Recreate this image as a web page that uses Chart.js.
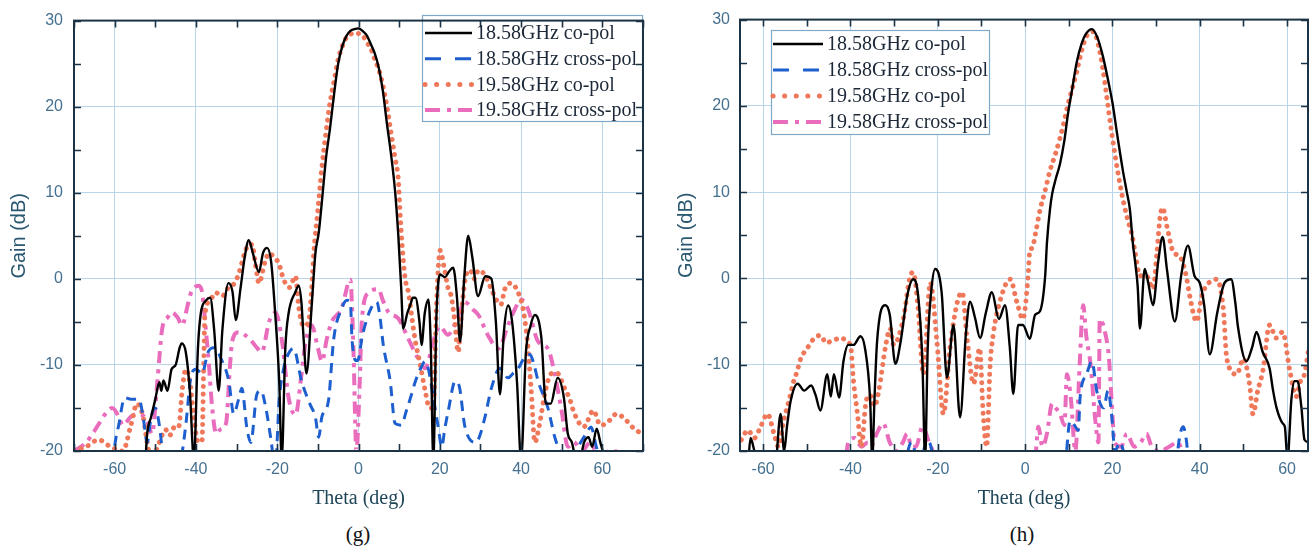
<!DOCTYPE html>
<html>
<head>
<meta charset="utf-8">
<script src="https://cdn.jsdelivr.net/npm/chart.js@4.4.1/dist/chart.umd.min.js"></script>
<style>
  html, body { margin: 0; padding: 0; background: #fff; width: 1312px; height: 554px; overflow: hidden; }
  .panel { position: absolute; top: 0; width: 656px; height: 515px; }
  .cap { position: absolute; top: 522px; font: 21px "Liberation Serif", "Times New Roman", serif; color: #111; transform: translateX(-50%); }
</style>
</head>
<body>
<div class="panel" style="left:0"><canvas id="chartG"></canvas></div>
<div class="panel" style="left:656px"><canvas id="chartH"></canvas></div>
<div class="cap" style="left:358px">(g)</div>
<div class="cap" style="left:1022px">(h)</div>
<script>
// ---- Measured radiation patterns: [theta (deg), gain (dB)] ----
// Values below -20 dB fall outside the plotted range.

// Panel (g)
const gCo1858 = [[-70,-25],[-53,-25],[-52,-18],[-51,-16],[-50,-14],[-49,-12],[-48.5,-13],[-48,-11.8],[-47,-13],[-46,-10.5],[-45,-10],[-44,-8],[-43.5,-7.5],[-42.5,-8.5],[-41.5,-13],[-40.5,-21],[-39.5,-8],[-38.8,-4],[-37.5,-2.5],[-36.5,-2.2],[-35.5,-6],[-34.4,-13],[-33.5,-6],[-32,-0.5],[-31,-1.5],[-30.2,-4.8],[-29,-1],[-28,2.5],[-27,4.5],[-26,3],[-24.5,0.8],[-23.5,3],[-22.5,3.6],[-21.5,2],[-20.5,-4],[-19.5,-12],[-18.9,-21],[-18,-8],[-17.2,-4],[-15.5,-1.5],[-14.7,-0.8],[-14,-3],[-13.5,-7],[-12.8,-11],[-11.5,-3],[-10.6,3],[-9.8,5.3],[-9,9],[-8,14],[-7,17.5],[-6,21.5],[-5,25],[-4,27],[-3,28.2],[-2,28.8],[-1,29],[0,29.1],[1,28.8],[2,28.3],[3,27.3],[4,26.2],[5,24.5],[6,21.8],[7,18],[8,14.5],[9,10.2],[9.8,5],[10.5,-1],[11,-5.8],[12,-4],[12.7,-3.1],[13.4,-2.2],[14,-2.2],[15,-5],[15.5,-7.7],[16.3,-4],[17.2,-2.4],[17.8,-8],[18.4,-21],[19.2,-4],[20.1,0.5],[21.3,0.2],[22.2,0.8],[23.3,1.3],[24.2,-2],[25,-7.3],[26,0],[27,5],[28,2.5],[29.4,-2],[31.2,0.3],[32.7,0],[33.8,-5],[34.8,-13.4],[35.8,-6],[36.8,-3.1],[37.8,-5],[39,-12],[40,-21],[41.2,-8.5],[42.3,-5.5],[43.4,-4.2],[45,-6.9],[46.1,-14.5],[47.3,-14.5],[49,-11.5],[50.5,-13.7],[51.5,-18],[52.5,-19],[54,-22],[55.5,-19],[56.6,-18.4],[57.5,-19.5],[58.6,-17.4],[59.5,-19],[60.6,-21],[62,-25],[70,-25]];

const gCross1858 = [[-70,-25],[-61,-25],[-60,-19.5],[-59,-17],[-57.5,-13.8],[-56,-14],[-54,-14],[-53,-16],[-52,-19],[-51,-16],[-50,-15],[-49,-17],[-48,-21],[-46,-25],[-44,-22],[-42.5,-17],[-41.2,-11.3],[-40,-10.5],[-38.5,-11],[-37,-8.5],[-35.5,-8],[-33.8,-9.3],[-31.9,-11.9],[-30.7,-15.7],[-29.5,-14],[-28.7,-12.7],[-27.5,-17.2],[-26.5,-19],[-25,-13.4],[-24,-13],[-22.8,-15],[-21.5,-18.8],[-20.5,-22],[-19.5,-14],[-18.4,-10.4],[-17,-8.5],[-16,-8.1],[-14,-11.9],[-12,-14.5],[-10.6,-16.1],[-9.8,-18.4],[-9,-16],[-7.4,-14.2],[-6.1,-7],[-4.2,-3.5],[-2.8,-2.5],[-2,-2.7],[-1.6,-7],[-0.5,-9.5],[0,-9.3],[0.8,-7],[1.6,-5.4],[3,-3.5],[4.5,-2.7],[5.3,-4.5],[6.1,-7.7],[7.8,-11.9],[9,-16.8],[10.5,-17],[11.8,-15.3],[13,-13.5],[14,-11.9],[15.2,-10.5],[16.4,-9.6],[17.2,-10.5],[18.5,-14],[19.6,-17.2],[20.5,-19.5],[21.2,-17.5],[22.1,-15.3],[23.8,-11.9],[24.8,-12.5],[26.2,-17.2],[29,-19],[30,-18],[31.1,-16.1],[32.7,-12.7],[34.8,-10.4],[36.8,-11.5],[38,-11],[39.3,-10.4],[41,-9],[42.2,-8.8],[43.2,-10],[44.2,-11.9],[46.6,-15],[48.3,-18.4],[50,-20.5],[52,-21],[54,-19.5],[56,-18],[57.2,-17.2],[58.5,-19.5],[60,-22],[62,-25],[70,-25]];

const gCo1958 = [[-70,-20],[-67,-19.5],[-64,-18.7],[-61,-19.5],[-58,-20],[-56,-17],[-54.5,-14.5],[-53,-16],[-52,-19],[-51,-21],[-49,-19],[-47.5,-17.5],[-46.5,-18.2],[-45,-17],[-44.2,-17.1],[-43.4,-13],[-42.5,-10.5],[-41.5,-12],[-40.5,-16],[-39.5,-19],[-38.5,-18.7],[-38,-8],[-37.8,-4.3],[-36.5,-2.5],[-35.2,-1.6],[-33.5,-2],[-32,-1],[-30.5,-0.5],[-29.4,0.7],[-28,3],[-27,4],[-26.2,4],[-25.3,1.5],[-24.5,-0.5],[-23,2],[-22,3],[-20.8,2.5],[-19.6,1.8],[-18.8,0.5],[-18,-0.5],[-17,-1],[-15.5,0.3],[-14.7,-3.3],[-13.5,-5.5],[-12.3,-5],[-11.5,-1],[-11,3],[-10,8],[-9,13],[-8,17],[-7,20.5],[-6,23],[-5,25.5],[-4,27],[-3,28],[-2,28.4],[-1,28.6],[0,28.5],[1,28.3],[2,27.5],[3,26.8],[4,25.5],[5,24.3],[6,22.5],[7,20],[8,17],[9,14],[9.8,11.5],[10.3,7],[10.8,3.5],[11.5,0],[12.3,-1.6],[13,-4],[14,-7.3],[15.2,-10],[16.4,-13],[17.5,-15],[18.4,-15],[19.2,-3],[20.1,3.3],[21,1.5],[22,-1],[22.8,-2],[23.7,-5],[24.5,-8.5],[25.5,-3],[26.5,0.5],[27.5,1],[28.5,0],[29.5,1],[31,0.5],[32.5,-1],[34,-2.5],[35,-3],[36,-1.2],[37.5,-0.5],[39.3,-1.6],[40.5,-3.5],[41.5,-7],[42.5,-13],[43.4,-19],[44.5,-17],[46,-13],[47.5,-11],[49,-11],[50.5,-12.5],[52,-14],[53,-15.5],[55.4,-17.2],[57.8,-15.3],[59.5,-17],[61,-16.8],[63.5,-15.7],[66,-16.5],[68,-17.5],[70,-18]];

const gCross1958 = [[-70,-20],[-67,-19],[-63.8,-16.8],[-62,-15.5],[-60.6,-15],[-59,-16],[-58,-17],[-56,-16],[-54,-15.7],[-52,-16.5],[-50.8,-18],[-49.5,-12],[-48.3,-5.8],[-47,-4.5],[-45.9,-3.9],[-44.5,-4.5],[-43.4,-5.4],[-42,-3],[-41.2,-1.6],[-39.3,-0.8],[-38.5,-1.5],[-37.8,-4.7],[-36.8,-10],[-36,-15],[-35,-18],[-34,-17.5],[-32.6,-16.8],[-31.6,-10],[-31.1,-7.3],[-29.5,-6.2],[-28,-6.5],[-26.2,-7.3],[-25,-8],[-23.8,-8.5],[-22,-5],[-20.4,-3.9],[-18.8,-7.3],[-17.2,-13.8],[-15.5,-15.8],[-14,-11],[-13,-7.3],[-11.5,-5.4],[-10,-8],[-9,-9.6],[-7.8,-7],[-6.6,-5],[-4.2,-3.5],[-2,-0.1],[-1.3,-7.3],[-0.5,-20],[0.3,-12],[0.8,-5],[2.5,-1.6],[4.9,-1.2],[6,-2.5],[7.4,-3.9],[9.8,-4.6],[12.3,-7],[14.7,-9.3],[16.4,-10.4],[17.5,-9],[18.4,-7.3],[20,-5.5],[22,-6.5],[24,-5],[26.2,-2.7],[28,-3.5],[29.5,-4.2],[31.9,-6.6],[34.4,-8.1],[36.8,-5.4],[38.5,-3.5],[40,-2.4],[41.7,-3.5],[44.2,-7.3],[46.6,-8.1],[48.3,-11.1],[50,-15.4],[51.5,-19.5],[53,-19],[55,-20],[57,-19],[59,-20.5],[62,-20],[70,-21]];

// Panel (h)
const hCo1858 = [[-65,-25],[-63.5,-22],[-62.9,-18.5],[-62,-20],[-61,-22],[-58,-25],[-57,-21],[-56,-15.7],[-55.2,-20],[-54.5,-17],[-53.7,-14.2],[-52.1,-12.2],[-50.6,-13],[-49,-12.4],[-48,-13.5],[-46.9,-15.3],[-45.3,-11.1],[-44.5,-13.7],[-43.8,-11.1],[-42.6,-13.8],[-41.6,-9.6],[-40.5,-7.7],[-39.3,-7.7],[-37.7,-6.7],[-36.6,-8.3],[-35.5,-14],[-35,-21],[-34.5,-14],[-33.9,-7.3],[-32,-3.1],[-31,-4.2],[-29.7,-9.9],[-28.5,-7.3],[-27,-2],[-25.6,-0.1],[-24.5,-2],[-23.5,-10],[-22.9,-21],[-22.3,-8],[-21.5,-1.5],[-20.6,1.1],[-19.1,-1.7],[-17.9,-11.5],[-16.4,-5.4],[-14.9,-16.1],[-13.5,-6],[-12.6,-2.7],[-11.5,-4.5],[-10.3,-6.9],[-9,-4],[-7.6,-1.6],[-6,-4.7],[-4.6,-3.1],[-3.5,-8],[-2.7,-13.4],[-1.6,-5.4],[-0.5,-5.4],[1.1,-7],[2.3,-4.2],[3.4,-3.8],[4.6,0.3],[5,4.1],[5.7,8],[6.2,9.8],[7,11.5],[8,13.3],[9,16],[9.8,19],[10.8,22],[11.8,25],[13,27.3],[14,28.4],[15.3,28.9],[16.5,28],[17.8,25.8],[19,23],[20.1,20.1],[21,17],[22.4,12.5],[23.3,10],[24,8],[24.7,4],[25.3,1.5],[25.8,-1],[26.3,-5.8],[27.4,1.1],[28.2,-0.5],[29.3,-3.1],[30.5,2],[31.5,4.8],[32.5,1],[34.3,-5],[35.8,0.5],[37.3,3.8],[38.8,0.3],[40,-0.5],[41,-3],[42.3,-8.8],[44,-4],[45.7,-0.5],[47.2,-0.1],[48.2,-3],[48.7,-5.4],[50.7,-9.6],[52,-8],[53,-6.2],[54.4,-8.5],[56,-10.4],[56.8,-13],[57.6,-15],[59,-16.8],[59.5,-17.2],[60.1,-21],[61,-14],[61.7,-11.9],[62.4,-11.9],[63.3,-15],[64,-18.7],[65,-19]];

const hCross1858 = [[-65,-25],[-28,-25],[-27,-20.5],[-26,-19],[-25,-20.5],[-24,-22],[-23,-19.5],[-22,-19],[-21,-21],[-20,-25],[8.5,-25],[9.5,-20],[10.3,-16.5],[11.3,-17],[12.2,-17.6],[12.6,-13.8],[14.1,-11.1],[15.3,-9.6],[16.4,-13],[17.2,-14.5],[18,-15],[19,-13],[19.8,-15.7],[20.6,-20],[21.7,-19],[23,-21],[25,-25],[34,-25],[35.2,-19],[36.2,-17.2],[37,-19],[38,-25],[65,-25]];

const hCo1958 = [[-65,-18.7],[-63.5,-17.6],[-62,-18.5],[-60.6,-17.2],[-59,-15.7],[-57.5,-18],[-56.5,-19.5],[-55.3,-16.5],[-54,-14],[-53,-11.9],[-52.3,-10.9],[-51.4,-9.3],[-49.9,-8.1],[-48.4,-7],[-46.9,-6.6],[-45.5,-7.5],[-44.6,-7.3],[-43,-7],[-42,-6.9],[-40.5,-7.5],[-40,-7.7],[-39.3,-11.9],[-38.4,-15.7],[-37.5,-19.5],[-36.5,-14.5],[-35.5,-13.5],[-34.5,-14.8],[-33.5,-13],[-32,-8],[-30.9,-5.8],[-30.1,-7.7],[-27.9,-4.7],[-26.3,0.3],[-25.6,0.7],[-24.5,-3.5],[-23.3,-11.1],[-21.7,-0.5],[-20.2,-7.3],[-18.7,-15.7],[-17.2,-8.1],[-15.5,-2.7],[-14.4,-1.6],[-13.3,-6.9],[-11.8,-12.2],[-10.4,-8.1],[-9.6,-15.7],[-8.8,-19.5],[-8,-10],[-7.3,-6.5],[-5.8,-2.7],[-3.4,-0.1],[-1.9,-2.7],[-0.5,-4.7],[0.7,0.3],[1.1,3.3],[1.6,3.5],[2.5,5.5],[3.4,7.9],[4.5,10],[5.7,12.5],[7,14.5],[8,16.3],[9,18.3],[9.8,20.1],[11.8,23.9],[13,26.5],[14.1,28.1],[15.7,28.6],[16.8,27],[17.8,24.3],[19.8,17],[21.7,11],[23.3,7.2],[24.5,5],[25.2,3],[26.3,0.3],[27.8,0.3],[29.3,-1.2],[30.2,3],[30.9,7],[31.5,8.2],[32.5,6],[34,3],[35.4,2.6],[36.9,0.3],[37.7,-2],[39.3,-5],[40.5,-2],[41.6,-0.8],[43.9,-0.1],[45.4,-3.5],[46.2,-9.3],[48.5,-11.1],[50,-9.3],[51.4,-12.2],[52.2,-15.7],[53.3,-13],[54.5,-10.6],[56,-5.4],[57.5,-6.9],[59,-6.2],[60.6,-10.6],[62.1,-13.7],[63,-12],[64,-11.1],[65,-8]];

const hCross1958 = [[-65,-25],[-42,-25],[-40.5,-19],[-39,-18.5],[-37.5,-19.5],[-36,-19],[-35.3,-19.5],[-34,-18],[-32.5,-16.8],[-31,-19],[-29.5,-20],[-28,-19],[-27,-18],[-26,-19.5],[-25,-19.5],[-23.5,-17.2],[-22,-19],[-21,-20.5],[-20,-25],[1.5,-25],[2.5,-20],[3,-17.2],[4,-19.5],[5,-18],[6.2,-14.5],[7,-15],[8,-15.7],[9,-17],[9.6,-11.1],[10.5,-14],[11.5,-20],[12.5,-10],[13.3,-3.1],[14,-6.6],[15,-10],[16,-16],[16.8,-19],[17.1,-4.7],[18.3,-6.2],[19.2,-9.2],[19.8,-14],[20.5,-19],[22,-19.5],[23.3,-18],[25,-19.5],[26.5,-19],[27.8,-18],[29,-19.5],[31,-20],[33,-19.5],[35,-19],[36,-20.5],[37,-25],[65,-25]];

// Axis ticks and labels
const thetaTicks = [-60, -40, -20, 0, 20, 40, 60];
const gainTicks = [-20, -10, 0, 10, 20, 30];
const seriesNames = ['18.58GHz co-pol', '18.58GHz cross-pol', '19.58GHz co-pol', '19.58GHz cross-pol'];

// ---- Drawing ----
const toPts = arr => arr.map(([x, y]) => ({ x, y }));

const STYLES = [
  { borderColor: '#000000', borderWidth: 2.4, borderDash: [], legendDash: [], borderCapStyle: 'butt' },
  { borderColor: '#1e5fd0', borderWidth: 3, borderDash: [10, 7], legendDash: [16, 14], borderCapStyle: 'butt' },
  { borderColor: '#f0785a', borderWidth: 5, borderDash: [0.1, 7.5], legendDash: [0.1, 11.5], borderCapStyle: 'round' },
  { borderColor: '#ea6cbc', borderWidth: 4, borderDash: [12, 6, 4, 6], legendDash: [15, 7, 4, 7], borderCapStyle: 'butt' }
];

const boxFrame = {
  id: 'boxFrame',
  afterDraw(chart) {
    const { ctx, chartArea: a, scales: { x, y } } = chart;
    ctx.save();
    ctx.strokeStyle = '#1b3344';
    ctx.lineWidth = 1.6;
    const t = 7;
    ctx.beginPath();
    for (let v = Math.ceil(x.min / 10) * 10; v <= x.max; v += 10) {
      const px = Math.round(x.getPixelForValue(v)) + 0.5;
      ctx.moveTo(px, a.top); ctx.lineTo(px, a.top + t);
      ctx.moveTo(px, a.bottom); ctx.lineTo(px, a.bottom - t);
    }
    for (let v = Math.ceil(y.min / 5) * 5; v <= y.max; v += 5) {
      const py = Math.round(y.getPixelForValue(v)) + 0.5;
      ctx.moveTo(a.left, py); ctx.lineTo(a.left + t, py);
      ctx.moveTo(a.right, py); ctx.lineTo(a.right - t, py);
    }
    ctx.stroke();
    ctx.lineWidth = 2;
    ctx.strokeRect(a.left, a.top, a.right - a.left, a.bottom - a.top);
    ctx.restore();
  }
};

const insideLegend = {
  id: 'insideLegend',
  afterDatasetsDraw(chart, args, o) {
    const ctx = chart.ctx;
    ctx.save();
    ctx.fillStyle = '#ffffff';
    ctx.fillRect(o.x, o.y, o.w, o.h);
    ctx.strokeStyle = '#7fa9c8';
    ctx.lineWidth = 1.2;
    ctx.strokeRect(o.x + 0.5, o.y + 0.5, o.w - 1, o.h - 1);
    chart.data.datasets.forEach((ds, i) => {
      const cy = o.y + o.row0 + i * o.rowGap;
      ctx.save();
      ctx.strokeStyle = ds.borderColor;
      ctx.lineWidth = ds.borderWidth;
      ctx.lineCap = ds.borderCapStyle;
      ctx.setLineDash(ds.legendDash);
      ctx.beginPath();
      ctx.moveTo(o.x + o.line0, cy);
      ctx.lineTo(o.x + o.line1, cy);
      ctx.stroke();
      ctx.restore();
      ctx.fillStyle = '#1c2838';
      ctx.font = '20px "Liberation Serif", "Times New Roman", serif';
      ctx.textBaseline = 'middle';
      ctx.fillText(ds.label, o.x + o.text0, cy + 1);
    });
    ctx.restore();
  }
};

function makeChart(id, seriesData, cfg) {
  const datasets = seriesData.map((d, i) => Object.assign({
    label: seriesNames[i],
    data: toPts(d),
    pointRadius: 0,
    fill: false,
    clip: 0,
    cubicInterpolationMode: 'monotone'
  }, STYLES[i]));

  const tickFont = { family: '"Liberation Sans", Arial, sans-serif', size: 16 };
  return new Chart(document.getElementById(id), {
    type: 'line',
    data: { datasets },
    options: {
      responsive: true,
      maintainAspectRatio: false,
      animation: false,
      events: [],
      layout: { padding: { top: 13, right: cfg.padRight, left: 0, bottom: 0 } },
      plugins: {
        legend: { display: false },
        tooltip: { enabled: false },
        insideLegend: cfg.legend
      },
      scales: {
        x: {
          type: 'linear',
          min: cfg.xMin, max: cfg.xMax,
          afterBuildTicks: s => { s.ticks = thetaTicks.map(v => ({ value: v })); },
          afterFit: s => { s.height = 64; },
          grid: { color: '#b9d5ea', lineWidth: 1, drawTicks: false },
          border: { display: false },
          ticks: { font: tickFont, color: '#45708f', padding: 9, maxRotation: 0 },
          title: {
            display: true, text: 'Theta (deg)', color: '#1f4658',
            font: { family: '"Liberation Serif", "Times New Roman", serif', size: 20 },
            padding: { top: 0, bottom: 4 }
          }
        },
        y: {
          type: 'linear',
          min: -20, max: 30,
          afterBuildTicks: s => { s.ticks = gainTicks.map(v => ({ value: v })); },
          afterFit: s => { s.width = cfg.yWidth; },
          grid: { color: '#b9d5ea', lineWidth: 1, drawTicks: false },
          border: { display: false },
          ticks: { font: tickFont, color: '#45708f', padding: cfg.yTickPad },
          title: {
            display: true, text: 'Gain (dB)', color: '#2a5870',
            font: { family: '"Liberation Sans", Arial, sans-serif', size: 20 },
            padding: { top: cfg.yTitlePad, bottom: 0 }
          }
        }
      }
    },
    plugins: [insideLegend, boxFrame]
  });
}

makeChart('chartG', [gCo1858, gCross1858, gCo1958, gCross1958], {
  xMin: -70, xMax: 70, padRight: 13, yWidth: 74, yTickPad: 11, yTitlePad: 7,
  legend: { x: 422, y: 15, w: 221, h: 107, row0: 18, rowGap: 25.7, line0: 3, line1: 50, text0: 54 }
});

makeChart('chartH', [hCo1858, hCross1858, hCo1958, hCross1958], {
  xMin: -65.3, xMax: 64.8, padRight: 4, yWidth: 84, yTickPad: 10, yTitlePad: 18,
  legend: { x: 115, y: 30, w: 219, h: 105, row0: 14, rowGap: 26, line0: 2, line1: 52, text0: 56 }
});
</script>
</body>
</html>
